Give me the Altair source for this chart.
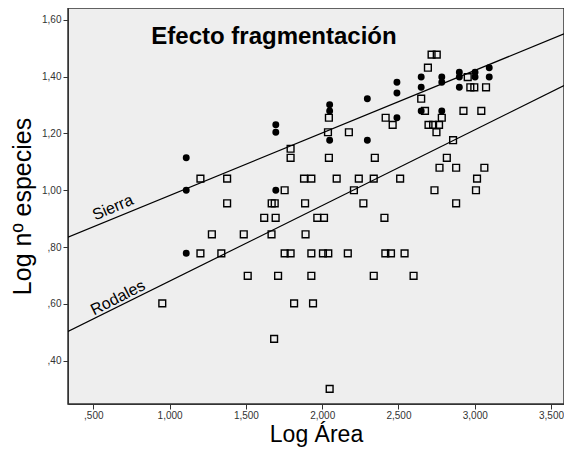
import altair as alt
import pandas as pd

# ---- data ----
sierra_x = [1.109, 1.109, 1.109, 1.696, 1.696, 1.696, 2.049, 2.049, 2.049,
            2.296, 2.296, 2.490, 2.490, 2.490, 2.649, 2.649, 2.649,
            2.784, 2.784, 2.784, 2.899, 2.899, 2.899, 3.002, 3.002, 3.095, 3.095]
sierra_y = [1.114, 1.000, 0.778, 1.230, 1.204, 1.000, 1.301, 1.279, 1.176,
            1.322, 1.176, 1.380, 1.342, 1.255, 1.398, 1.362, 1.279,
            1.398, 1.380, 1.279, 1.415, 1.398, 1.362, 1.415, 1.398, 1.431, 1.398]

rodales_x = [0.952, 1.202, 1.377, 1.377, 1.277, 1.202, 1.339, 1.486, 1.512, 1.620,
             1.695, 1.669, 1.689, 1.668, 1.711, 1.685, 1.754, 1.754, 1.793, 1.793,
             1.793, 1.816, 1.881, 1.929, 1.888, 1.891, 1.929, 1.929, 1.940, 1.968,
             2.012, 2.005, 2.040, 2.044, 2.044, 2.038, 2.095, 2.049, 2.168, 2.175,
             2.208, 2.240, 2.270, 2.338, 2.345, 2.338, 2.408, 2.414, 2.451, 2.416,
             2.462, 2.511, 2.540, 2.599, 2.649, 2.674, 2.697, 2.727, 2.766, 2.749,
             2.717, 2.751, 2.693, 2.784, 2.817, 2.769, 2.878, 3.063, 2.858, 2.736,
             2.878, 2.926, 3.043, 2.954, 2.971, 2.997, 3.074, 3.015, 3.008]
rodales_y = [0.602, 1.041, 1.041, 0.954, 0.845, 0.778, 0.778, 0.845, 0.699, 0.903,
             0.903, 0.954, 0.954, 0.845, 0.699, 0.477, 1.000, 0.778, 0.778, 1.146,
             1.114, 0.602, 1.041, 1.041, 0.954, 0.845, 0.778, 0.699, 0.602, 0.903,
             0.903, 0.778, 0.778, 1.114, 1.255, 1.204, 1.041, 0.301, 0.778, 1.204,
             1.000, 1.041, 0.954, 1.041, 1.114, 0.699, 0.903, 0.778, 0.778, 1.255,
             1.230, 1.041, 0.778, 0.699, 1.322, 1.279, 1.230, 1.230, 1.230, 1.204,
             1.477, 1.477, 1.431, 1.255, 1.114, 1.079, 1.079, 1.079, 1.176, 1.000,
             0.954, 1.279, 1.279, 1.398, 1.362, 1.362, 1.362, 1.041, 1.000]

# fitted lines (end points read at the plot edges)
fit_x = [0.334, 3.585]
sierra_fit = [0.835, 1.550]
rodales_fit = [0.503, 1.368]

x_ticks = [0.5, 1.0, 1.5, 2.0, 2.5, 3.0, 3.5]
y_ticks = [0.4, 0.6, 0.8, 1.0, 1.2, 1.4, 1.6]

line_labels = ["Sierra", "Rodales"]
label_x = [0.628, 0.661]
label_y = [0.939, 0.622]
label_angle = [337, 333]

# ---- tables ----
sierra_df = pd.DataFrame({"x": sierra_x, "y": sierra_y})
rodales_df = pd.DataFrame({"x": rodales_x, "y": rodales_y})
fit_df = pd.DataFrame({
    "x": fit_x + fit_x,
    "y": sierra_fit + rodales_fit,
    "grupo": ["Sierra"] * 2 + ["Rodales"] * 2,
})
lab_df = pd.DataFrame({"t": line_labels, "x": label_x, "y": label_y, "a": label_angle})

FONT = "Liberation Sans"
xs = alt.Scale(domain=[0.334, 3.585], nice=False, zero=False)
ys = alt.Scale(domain=[0.248, 1.641], nice=False, zero=False)

x_expr = ("datum.value < 1 ? substring(replace(format(datum.value, '.3f'), '.', ','), 1)"
          " : replace(format(datum.value, '.3f'), '.', ',')")
y_expr = ("datum.value < 1 ? substring(replace(format(datum.value, '.2f'), '.', ','), 1)"
          " : replace(format(datum.value, '.2f'), '.', ',')")

x_axis = alt.Axis(values=x_ticks, labelExpr=x_expr, title="Log Área", grid=False,
                  labelFont=FONT, labelFontSize=10, labelColor="#333333", labelPadding=1,
                  titleFont=FONT, titleFontSize=23, titleFontWeight="normal",
                  titleColor="#000000", titlePadding=3, tickSize=5,
                  tickColor="#333333", domainColor="#333333")
y_axis = alt.Axis(values=y_ticks, labelExpr=y_expr, title="Log nº especies", grid=False,
                  labelFont=FONT, labelFontSize=10, labelColor="#333333",
                  titleFont=FONT, titleFontSize=25, titleFontWeight="normal",
                  titleColor="#000000", titlePadding=6, tickSize=5,
                  tickColor="#333333", domainColor="#333333")

squares = alt.Chart(rodales_df).mark_point(
    shape="square", filled=False, color="#000000", size=46, strokeWidth=1.4, opacity=1
).encode(x=alt.X("x:Q", scale=xs, axis=x_axis), y=alt.Y("y:Q", scale=ys, axis=y_axis))

circles = alt.Chart(sierra_df).mark_circle(color="#000000", size=48, opacity=1).encode(
    x=alt.X("x:Q", scale=xs), y=alt.Y("y:Q", scale=ys))

lines = alt.Chart(fit_df).mark_line(color="#000000", strokeWidth=1.2, clip=True).encode(
    x=alt.X("x:Q", scale=xs), y=alt.Y("y:Q", scale=ys), detail="grupo:N")

labels = alt.Chart(lab_df).mark_text(font=FONT, fontSize=16, color="#000000").encode(
    x=alt.X("x:Q", scale=xs), y=alt.Y("y:Q", scale=ys), text="t:N",
    angle=alt.Angle("a:Q", scale=None))

chart = alt.layer(lines, squares, circles, labels).properties(
    width=496, height=396,
    title=alt.TitleParams("Efecto fragmentación", font=FONT, fontSize=24,
                          fontWeight="bold", color="#000000", anchor="middle",
                          dx=-42, offset=-41),
    autosize=alt.AutoSizeParams(type="none"),
    padding={"left": 60, "top": 0, "right": 0, "bottom": 45},
    background="#ffffff",
).configure_view(fill="#eeeeee", stroke="#333333", strokeWidth=1.5)

chart.save("out.html", embed_options={"renderer": "svg", "actions": False})
